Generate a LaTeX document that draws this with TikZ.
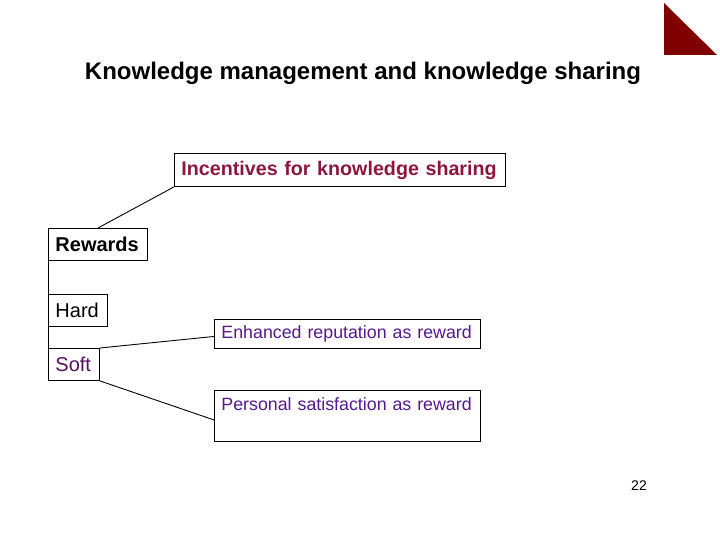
\documentclass[tikz,border=0pt]{standalone}
\usepackage{fontspec}
\setmainfont{Liberation Sans}
\definecolor{incred}{RGB}{140,22,62}
\definecolor{softpurple}{RGB}{88,14,96}
\definecolor{enhpurple}{RGB}{86,24,140}
\definecolor{tri}{RGB}{128,0,0}
\begin{document}
\begin{tikzpicture}[x=1pt,y=-1pt,
  box/.style={draw, line width=0.9pt, anchor=north west, inner xsep=7pt, inner ysep=0pt, align=left},
  conn/.style={line width=0.9pt}]
\useasboundingbox (0,0) rectangle (720,540);
\fill[tri] (664,3) -- (664,55) -- (717,55) -- cycle;
\node[font=\fontsize{24}{28}\selectfont\bfseries] (title) at (363,73) {Knowledge management and knowledge sharing};
\node[box, text width=317pt, text height=15pt, text depth=3pt, inner ysep=7.5pt, font=\fontsize{19.7}{24}\selectfont\bfseries, text=incred] (inc) at (174,153) {\mbox{Incentives for knowledge sharing}};
\node[box, text width=85pt, minimum height=32pt, font=\fontsize{20}{24}\selectfont\bfseries] (rew) at (48,228) {\mbox{Rewards}};
\node[box, text width=45pt, minimum height=32pt, font=\fontsize{20}{24}\selectfont] (hard) at (48,294) {\mbox{Hard}};
\node[box, text width=37pt, minimum height=32pt, font=\fontsize{20}{24}\selectfont, text=softpurple] (soft) at (48,348) {\mbox{Soft}};
\node[box, text width=252pt, text height=13pt, text depth=4pt, inner ysep=6pt, font=\fontsize{17.8}{22}\selectfont, text=enhpurple] (enh) at (214,319) {\mbox{Enhanced reputation as reward}};
\node[box, text width=252pt, text height=16pt, text depth=27pt, inner ysep=4pt, font=\fontsize{17.8}{22}\selectfont, text=enhpurple] (pers) at (214,390) {\mbox{Personal satisfaction as reward}};
\node[font=\fontsize{14}{17}\selectfont] (page) at (639,486) {22};
\draw[conn] (inc.south west) -- (rew.north);
\draw[conn] (rew.south west) -- (hard.north west);
\draw[conn] (hard.south west) -- (soft.north west);
\draw[conn] (soft.north east) -- ([yshift=-2.5pt]enh.west);
\draw[conn] (soft.south east) -- ([yshift=-4pt]pers.west);
\end{tikzpicture}
\end{document}
